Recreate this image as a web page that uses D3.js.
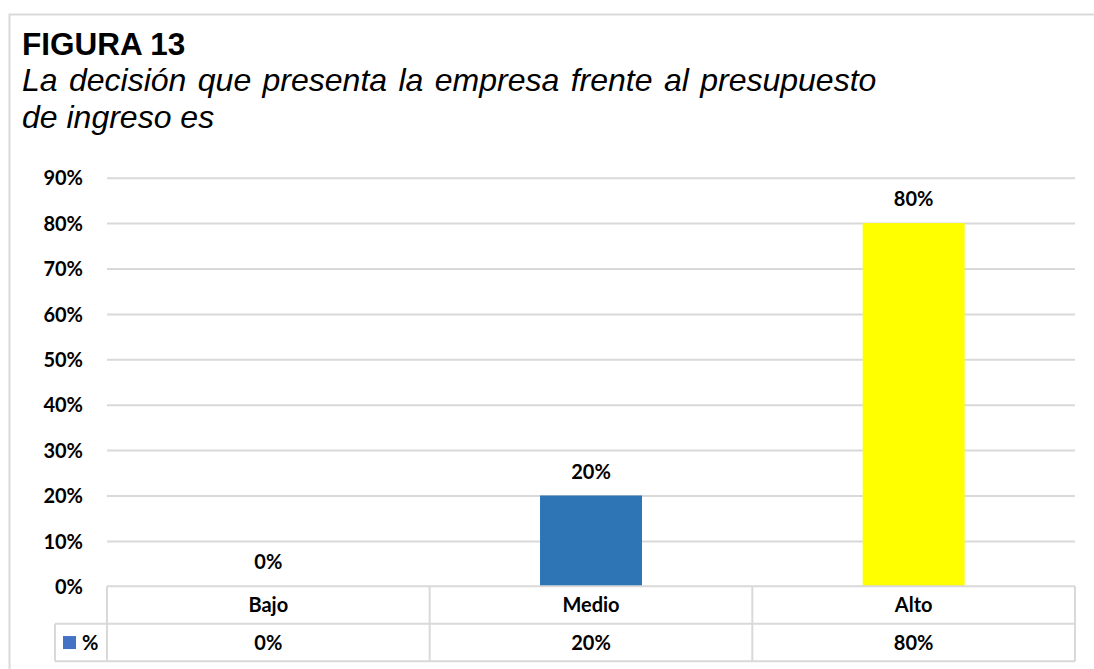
<!DOCTYPE html>
<html>
<head>
<meta charset="utf-8">
<script src="https://cdn.jsdelivr.net/npm/d3@7"></script>
<style>
  html, body { margin: 0; padding: 0; background: #fff; }
  svg { display: block; }
</style>
</head>
<body>
<svg id="chart" width="1094" height="669"></svg>
<script>
// ---- data ----
const categories = ["Bajo", "Medio", "Alto"];
const values = [0, 0.20, 0.80];
const barColors = ["#2E75B6", "#2E75B6", "#FFFF00"];
const seriesName = "%";
const yTicks = [0, 0.1, 0.2, 0.3, 0.4, 0.5, 0.6, 0.7, 0.8, 0.9];
const titleText = "FIGURA 13";
const subtitleLine1 = "La decisión que presenta la empresa frente al presupuesto";
const subtitleLine2 = "de ingreso es";

// ---- layout ----
const svg = d3.select("#chart");
const W = 1094, H = 669;
const plot = { left: 107, right: 1075, top: 177.7, bottom: 586.3 };
const rowH = 37.5;
const labelFont = "Lato, 'Open Sans', sans-serif";
const grid = "#D9D9D9";

// outer border
svg.append("rect")
  .attr("x", 9.5).attr("y", 14.5)
  .attr("width", W + 20).attr("height", H + 20)
  .attr("fill", "#fff").attr("stroke", grid).attr("stroke-width", 2);

// title
svg.append("text")
  .attr("x", 22).attr("y", 55)
  .attr("font-family", "'Liberation Sans', Arial, sans-serif")
  .attr("font-weight", "bold").attr("font-size", 31.5)
  .attr("fill", "#000")
  .text(titleText);

// subtitle (justified first line -> wider word spacing)
const subFamily = "'Liberation Sans', Arial, sans-serif";
const subSize = 32;
svg.append("text")
  .attr("x", 22).attr("y", 91)
  .attr("font-family", subFamily)
  .attr("font-style", "italic")
  .attr("font-size", subSize)
  .attr("fill", "#000")
  .style("word-spacing", "2.5px")
  .text(subtitleLine1);

svg.append("text")
  .attr("x", 22).attr("y", 128)
  .attr("font-family", subFamily)
  .attr("font-style", "italic")
  .attr("font-size", subSize)
  .attr("fill", "#000")
  .text(subtitleLine2);

// scales
const y = d3.scaleLinear().domain([0, 0.9]).range([plot.bottom, plot.top]);
const xCell = d3.scaleBand().domain(categories).range([plot.left, plot.right]).padding(0);
const x = d3.scaleBand().domain(categories).range([plot.left, plot.right])
  .paddingInner(0.684).paddingOuter(0.342);

// gridlines
const gridAxis = d3.axisLeft(y).tickValues(yTicks.filter(d => d > 0))
  .tickSize(-(plot.right - plot.left)).tickFormat("");
const gg = svg.append("g").attr("transform", `translate(${plot.left},0)`).call(gridAxis);
gg.select(".domain").remove();
gg.selectAll("line").attr("stroke", grid).attr("stroke-width", 2);

// y axis labels
const yAxis = d3.axisLeft(y).tickValues(yTicks).tickSize(0).tickPadding(0).tickFormat(d3.format(".0%"));
const ya = svg.append("g").attr("transform", `translate(83,0)`).call(yAxis);
ya.select(".domain").remove();
ya.selectAll("text")
  .attr("font-family", labelFont).attr("font-weight", "bold")
  .attr("font-size", 20).attr("fill", "#000").attr("dy", "0.36em");

// bars
svg.append("g").selectAll("rect").data(values).join("rect")
  .attr("x", (d, i) => x(categories[i]))
  .attr("width", x.bandwidth())
  .attr("y", d => y(d))
  .attr("height", d => y(0) - y(d))
  .attr("fill", (d, i) => barColors[i]);

// data labels
svg.append("g").selectAll("text").data(values).join("text")
  .attr("x", (d, i) => x(categories[i]) + x.bandwidth() / 2)
  .attr("y", d => y(d) - 17)
  .attr("text-anchor", "middle")
  .attr("font-family", labelFont).attr("font-weight", "bold")
  .attr("font-size", 20).attr("fill", "#000")
  .text(d => d3.format(".0%")(d));

// data table
const t = svg.append("g").attr("fill", "none").attr("stroke", grid).attr("stroke-width", 2);
const row1Top = plot.bottom, row2Top = plot.bottom + rowH, row2Bot = plot.bottom + 2 * rowH;
const legendLeft = 55;
t.append("line").attr("x1", plot.left).attr("x2", plot.right).attr("y1", row1Top).attr("y2", row1Top);
t.append("line").attr("x1", legendLeft).attr("x2", plot.right).attr("y1", row2Top).attr("y2", row2Top);
t.append("line").attr("x1", legendLeft).attr("x2", plot.right).attr("y1", row2Bot).attr("y2", row2Bot);
t.append("line").attr("x1", legendLeft).attr("x2", legendLeft).attr("y1", row2Top).attr("y2", row2Bot);
[plot.left, ...categories.map(c => xCell(c) + xCell.bandwidth())].forEach(xx => {
  t.append("line").attr("x1", xx).attr("x2", xx).attr("y1", row1Top).attr("y2", row2Bot);
});

// category labels row
svg.append("g").selectAll("text").data(categories).join("text")
  .attr("x", d => xCell(d) + xCell.bandwidth() / 2)
  .attr("y", row1Top + rowH / 2)
  .attr("dy", "0.36em")
  .attr("text-anchor", "middle")
  .attr("font-family", labelFont).attr("font-weight", "bold")
  .attr("font-size", 20).attr("fill", "#000")
  .text(d => d);

// values row
svg.append("g").selectAll("text").data(values).join("text")
  .attr("x", (d, i) => xCell(categories[i]) + xCell.bandwidth() / 2)
  .attr("y", row2Top + rowH / 2)
  .attr("dy", "0.36em")
  .attr("text-anchor", "middle")
  .attr("font-family", labelFont).attr("font-weight", "bold")
  .attr("font-size", 20).attr("fill", "#000")
  .text(d => d3.format(".0%")(d));

// legend key
svg.append("rect")
  .attr("x", 63).attr("y", row2Top + rowH / 2 - 6.5)
  .attr("width", 13).attr("height", 13)
  .attr("fill", "#4472C4");
svg.append("text")
  .attr("x", 82).attr("y", row2Top + rowH / 2)
  .attr("dy", "0.36em")
  .attr("font-family", labelFont).attr("font-weight", "bold")
  .attr("font-size", 20).attr("fill", "#000")
  .text(seriesName);
</script>
</body>
</html>
